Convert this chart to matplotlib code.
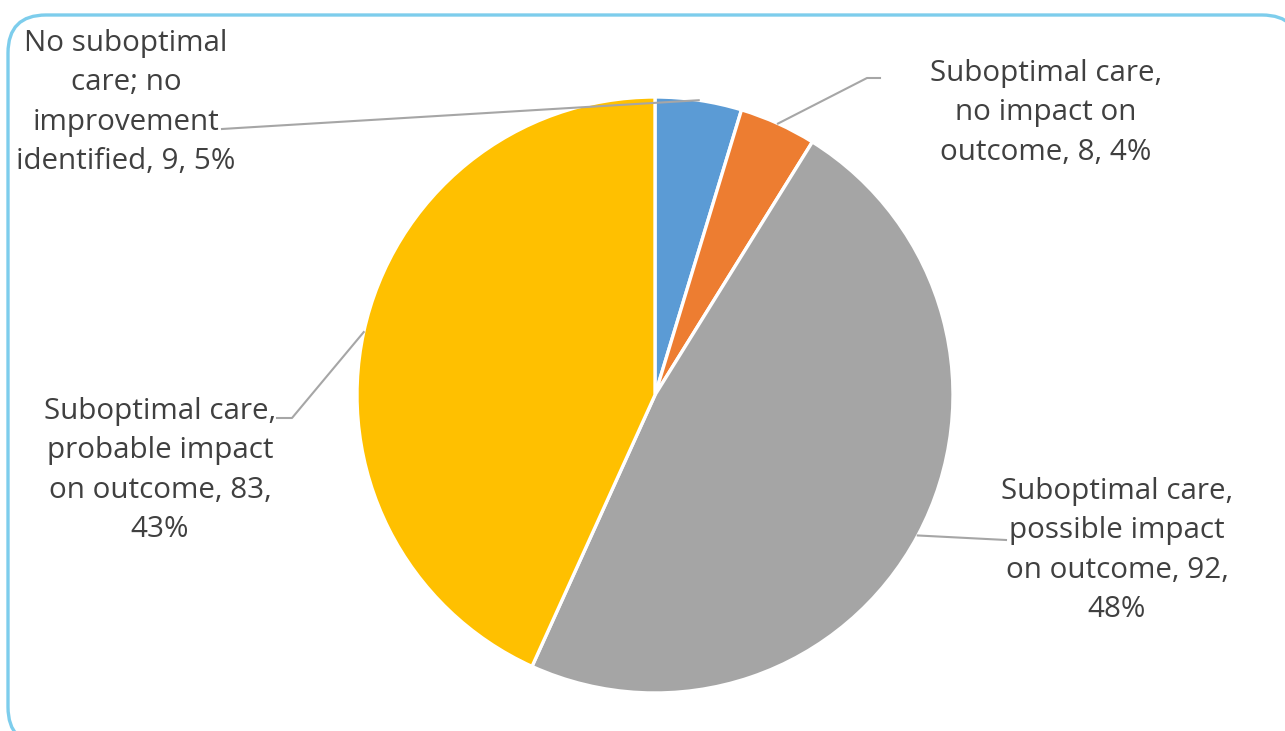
import numpy as np
import matplotlib.pyplot as plt
from matplotlib.patches import FancyBboxPatch

# Slice data, clockwise from 12 o'clock
LABELS = [
    "No suboptimal\ncare; no\nimprovement\nidentified",
    "Suboptimal care,\nno impact on\noutcome",
    "Suboptimal care,\npossible impact\non outcome",
    "Suboptimal care,\nprobable impact\non outcome",
]
COUNTS = [9, 8, 92, 83]
PERCENTS = [5, 4, 48, 43]
COLORS = ["#5b9bd5", "#ed7d31", "#a5a5a5", "#ffc000"]

W, H = 1285, 731
CX, CY, R = 655, 395, 298          # pie centre / radius in pixels (from top)

# label layout: x-centre, y-top in px
LABEL_POS = [(126, 29), (1046, 59), (1117, 477), (160, 397)]
# leader elbow points (px): text-side end, then elbow
LEADER_PTS = [[(222, 129), (238, 128)],
              [(880, 78), (867, 78)],
              [(1006, 540), (1006, 540)],
              [(277, 418), (292, 418)]]


def main():
    plt.rcParams['font.family'] = ['Open Sans', 'DejaVu Sans']
    fig = plt.figure(figsize=(W / 100, H / 100), dpi=100)
    ax = fig.add_axes([0, 0, 1, 1])
    ax.set_xlim(0, W)
    ax.set_ylim(0, H)
    ax.axis("off")

    border = FancyBboxPatch((8, H - 745), 1292, 730,
                            boxstyle="round,pad=0,rounding_size=38",
                            fc="white", ec="#7dcdec", lw=2.4, zorder=0)
    ax.add_patch(border)

    wedges, _ = ax.pie(COUNTS, colors=COLORS, startangle=90, counterclock=False,
                       center=(CX, H - CY), radius=R, frame=True,
                       wedgeprops=dict(edgecolor="white", linewidth=2.4))
    ax.set_xlim(0, W)
    ax.set_ylim(0, H)
    ax.set_aspect("equal")

    for w, lab, n, pct, (tx, ty), pts in zip(wedges, LABELS, COUNTS, PERCENTS,
                                             LABEL_POS, LEADER_PTS):
        if lab.endswith("outcome") and n > 50:
            txt = f"{lab}, {n},\n{pct}%"
        else:
            txt = f"{lab}, {n}, {pct}%"
        mid = np.deg2rad((w.theta1 + w.theta2) / 2)
        ex = CX + R * np.cos(mid)
        ey = CY - R * np.sin(mid)
        xs = [p[0] for p in pts] + [ex]
        ys = [H - p[1] for p in pts] + [H - ey]
        ax.plot(xs, ys, color="#a6a6a6", lw=1.5, zorder=3)
        ax.text(tx, H - ty, txt, ha="center", va="top", fontsize=21.3,
                color="#404040", linespacing=1.47, zorder=4)

    fig.savefig("out.png", dpi=100)


if __name__ == "__main__":
    main()
